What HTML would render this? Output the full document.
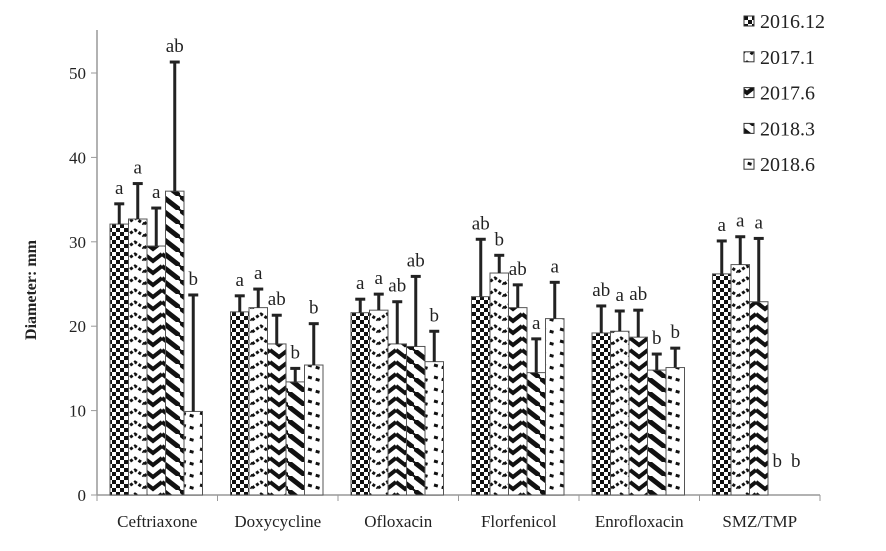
<!DOCTYPE html>
<html><head><meta charset="utf-8"><style>
body{margin:0;background:#fff}
svg text{font-family:"Liberation Serif",serif;fill:#222}
</style></head><body>
<svg id="c" width="886" height="546">
<defs>
<pattern id="p0" width="8" height="8" patternUnits="userSpaceOnUse"><rect width="8" height="8" fill="#fff"/><rect width="4" height="4" fill="#111"/><rect x="4" y="4" width="4" height="4" fill="#111"/></pattern>
<pattern id="p1" width="18" height="12" patternUnits="userSpaceOnUse"><rect width="18" height="12" fill="#fff"/><path d="M0,8 L9,2 L18,8" stroke="#111" stroke-width="3" fill="none" stroke-dasharray="3 2"/></pattern>
<pattern id="p2" width="18" height="12" patternUnits="userSpaceOnUse"><rect width="18" height="12" fill="#fff"/><path d="M0,2 L9,9 L18,2" stroke="#111" stroke-width="4" fill="none"/></pattern>
<pattern id="p3" width="18" height="14" patternUnits="userSpaceOnUse"><rect width="18" height="14" fill="#fff"/><path d="M0,0 L18,14" stroke="#111" stroke-width="5" fill="none"/><path d="M-9,7 L9,21 M9,-7 L27,7" stroke="#111" stroke-width="2" fill="none"/></pattern>
<pattern id="p4" width="18" height="12" patternUnits="userSpaceOnUse"><rect width="18" height="12" fill="#fff"/><path d="M2,5 L16,9" stroke="#111" stroke-width="3" fill="none" stroke-dasharray="4 4"/></pattern>
</defs>
</svg>
<script>
const categories=["Ceftriaxone","Doxycycline","Ofloxacin","Florfenicol","Enrofloxacin","SMZ/TMP"];
const seriesNames=["2016.12","2017.1","2017.6","2018.3","2018.6"];
const s2016_12=[32.1,21.7,21.6,23.5,19.2,26.2];
const s2017_1=[32.7,22.2,21.9,26.3,19.4,27.3];
const s2017_6=[29.5,17.9,17.9,22.2,18.7,22.9];
const s2018_3=[36.0,13.4,17.6,14.5,14.8,0];
const s2018_6=[9.9,15.4,15.8,20.9,15.1,0];
const e2016_12=[34.5,23.6,23.2,30.3,22.4,30.1];
const e2017_1=[36.9,24.4,23.8,28.4,21.8,30.6];
const e2017_6=[34.0,21.3,22.9,24.9,21.9,30.4];
const e2018_3=[51.3,15.0,25.9,18.5,16.7,0];
const e2018_6=[23.7,20.3,19.4,25.2,17.4,0];
const l2016_12=["a","a","a","ab","ab","a"];
const l2017_1=["a","a","a","b","a","a"];
const l2017_6=["a","ab","ab","ab","ab","a"];
const l2018_3=["ab","b","ab","a","b","b"];
const l2018_6=["b","b","b","a","b","b"];
const yTicks=[0,10,20,30,40,50];
const vals=[s2016_12,s2017_1,s2017_6,s2018_3,s2018_6];
const errs=[e2016_12,e2017_1,e2017_6,e2018_3,e2018_6];
const lets=[l2016_12,l2017_1,l2017_6,l2018_3,l2018_6];
const svg=document.getElementById('c');const NS='http://www.w3.org/2000/svg';
const x0=97,y0=495,pitch=120.5,bw=18.5;
const y=v=>y0-v*8.44;
const xb=(c,s)=>x0+13+c*pitch+s*bw;
function mk(t,a,p){const e=document.createElementNS(NS,t);for(const k in a)e.setAttribute(k,a[k]);(p||svg).appendChild(e);return e;}
let ax=mk('line',{x1:x0,y1:30,x2:x0,y2:y0,stroke:'#999','stroke-width':1.5});


let xa=mk('line',{x1:x0,y1:y0,x2:x0+6*pitch,y2:y0,stroke:'#999','stroke-width':1.5});


yTicks.forEach(t=>{mk('line',{x1:x0-6,y1:y(t),x2:x0,y2:y(t),stroke:'#999'});
const tx=mk('text',{x:86,y:y(t)+6,'text-anchor':'end','font-size':17});tx.textContent=t;

});
for(let c=0;c<=6;c++)mk('line',{x1:x0+c*pitch,y1:y0,x2:x0+c*pitch,y2:y0+6,stroke:'#999'});
const yl=mk('text',{x:0,y:0,transform:'translate(36,290) rotate(-90)','text-anchor':'middle','font-size':16,'font-weight':'bold'});yl.textContent='Diameter: mm';


categories.forEach((cat,c)=>{
 const t=mk('text',{x:x0+pitch*(c+0.5),y:527,'text-anchor':'middle','font-size':17});t.textContent=cat;
 
 
 for(let s=0;s<5;s++){
  const v=vals[s][c],e=errs[s][c],x=xb(c,s);
  if(v>0){const r=mk('rect',{x:x,y:y(v),width:bw,height:y0-y(v),fill:'url(#p'+s+')',stroke:'#555','stroke-width':1});
  
  
  mk('line',{x1:x+bw/2,y1:y(v),x2:x+bw/2,y2:y(e),stroke:'#222','stroke-width':3});
  mk('line',{x1:x+bw/2-5,y1:y(e),x2:x+bw/2+5,y2:y(e),stroke:'#222','stroke-width':3});}
  const ly=v>0?y(e)-10:y0-28;
  const lt=mk('text',{x:x+bw/2,y:ly,'text-anchor':'middle','font-size':19});lt.textContent=lets[s][c];
  
  
 }
});
seriesNames.forEach((n,s)=>{const g=mk('g',{});
 
 
 const yy=22+s*35.8;
 mk('rect',{x:744,y:yy-6,width:10,height:10,fill:'url(#p'+s+')',stroke:'#333'},g);
 const t=mk('text',{x:760,y:yy+6,'font-size':20},g);t.textContent=n;});
</script>
</body></html>
